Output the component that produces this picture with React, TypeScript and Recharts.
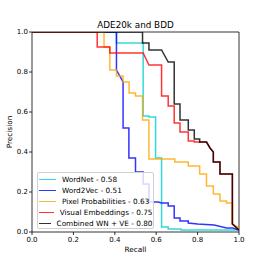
import React from "react";
import { LineChart, Line, XAxis, YAxis, ReferenceArea } from "recharts";

type Pt = { r: number; p: number };
const toPts = (a: number[][]): Pt[] => a.map(([r, p]) => ({ r, p }));

const ticks = [0, 0.2, 0.4, 0.6, 0.8, 1.0];

const wordNet = toPts([
  [0, 1], [0.408, 1], [0.408, 0.945], [0.537, 0.945], [0.537, 0.58],
  [0.565, 0.58], [0.565, 0.575], [0.597, 0.575], [0.597, 0.37],
  [0.626, 0.37], [0.626, 0.025], [0.658, 0.025], [0.658, 0.015],
  [0.72, 0.015], [0.72, 0.01], [1, 0.01],
]);

const word2Vec = toPts([
  [0, 1], [0.408, 1], [0.408, 0.81], [0.44, 0.75], [0.44, 0.52],
  [0.468, 0.52], [0.468, 0.37], [0.5, 0.37], [0.5, 0.3], [0.537, 0.3],
  [0.537, 0.24], [0.565, 0.24], [0.565, 0.15], [0.61, 0.15],
  [0.626, 0.145], [0.658, 0.145], [0.658, 0.13], [0.687, 0.13],
  [0.687, 0.07], [0.715, 0.07], [0.715, 0.055], [0.755, 0.055],
  [0.755, 0.045], [0.8, 0.04], [0.88, 0.035], [0.94, 0.02],
  [0.97, 0.02], [1, 0.01],
]);

const pixelProb = toPts([
  [0, 1], [0.348, 1], [0.348, 0.925], [0.376, 0.925], [0.376, 0.81],
  [0.408, 0.81], [0.408, 0.78], [0.44, 0.78], [0.44, 0.75], [0.469, 0.75],
  [0.469, 0.695], [0.5, 0.695], [0.5, 0.68], [0.534, 0.68], [0.534, 0.56],
  [0.565, 0.56], [0.565, 0.365], [0.69, 0.365], [0.69, 0.35],
  [0.755, 0.35], [0.755, 0.33], [0.81, 0.33], [0.81, 0.29], [0.843, 0.29],
  [0.843, 0.23], [0.876, 0.23], [0.876, 0.19], [0.908, 0.19],
  [0.908, 0.155], [0.94, 0.155], [0.94, 0.145], [0.968, 0.145],
  [0.968, 0.04], [1, 0.02],
]);

const visualEmb = toPts([
  [0, 1], [0.315, 1], [0.315, 0.925], [0.376, 0.925], [0.376, 0.895],
  [0.537, 0.895], [0.565, 0.835], [0.626, 0.835], [0.626, 0.68],
  [0.658, 0.68], [0.658, 0.63], [0.687, 0.63], [0.687, 0.545],
  [0.715, 0.545], [0.715, 0.5], [0.755, 0.5], [0.755, 0.455],
  [0.784, 0.455], [0.784, 0.45], [0.843, 0.45], [0.86, 0.42],
  [0.876, 0.4], [0.876, 0.35], [0.908, 0.35], [0.908, 0.29],
  [0.968, 0.29], [0.968, 0.04], [1, 0.01],
]);

const combined = toPts([
  [0, 1], [0.534, 1], [0.534, 0.945], [0.565, 0.945], [0.565, 0.91],
  [0.626, 0.91], [0.658, 0.85], [0.687, 0.85], [0.687, 0.64],
  [0.715, 0.64], [0.715, 0.56], [0.755, 0.56], [0.755, 0.51],
  [0.784, 0.51], [0.784, 0.465], [0.81, 0.465], [0.81, 0.45],
  [0.843, 0.45], [0.86, 0.42], [0.876, 0.4], [0.876, 0.35],
  [0.908, 0.35], [0.908, 0.29], [0.968, 0.29], [0.968, 0.04], [1, 0.01],
]);

const series = [
  { name: "WordNet - 0.58", color: "#00ced1", data: wordNet },
  { name: "Word2Vec - 0.51", color: "#0000ff", data: word2Vec },
  { name: "Pixel Probabilities - 0.63", color: "#ffa500", data: pixelProb },
  { name: "Visual Embeddings - 0.75", color: "#ff0000", data: visualEmb },
  { name: "Combined WN + VE - 0.80", color: "#000000", data: combined },
];

const font = "'DejaVu Sans', sans-serif";
const tickStyle = { fontSize: 7, fill: "#000", fontFamily: font };

export default function App() {
  return (
    <div
      style={{
        position: "absolute",
        left: 0,
        top: 0,
        width: 266,
        height: 266,
        background: "#fff",
        fontFamily: font,
      }}
    >
      <LineChart
        width={266}
        height={266}
        margin={{ top: 32, right: 27, left: 0, bottom: 14 }}
      >
        <XAxis
          dataKey="r"
          type="number"
          domain={[0, 1]}
          ticks={ticks}
          tickFormatter={(v: number) => v.toFixed(1)}
          axisLine={false}
          tickLine={{ stroke: "#000", strokeWidth: 0.8 }}
          tickSize={3}
          tickMargin={2}
          height={20}
          tick={tickStyle}
          allowDataOverflow
        />
        <YAxis
          dataKey="p"
          type="number"
          domain={[0, 1]}
          ticks={ticks}
          tickFormatter={(v: number) => v.toFixed(1)}
          axisLine={false}
          tickLine={{ stroke: "#000", strokeWidth: 0.8 }}
          tickSize={3}
          tickMargin={1}
          width={32}
          tick={tickStyle}
          allowDataOverflow
        />
        {series.map((s) => (
          <Line
            key={s.name}
            data={s.data}
            dataKey="p"
            type="linear"
            stroke={s.color}
            strokeOpacity={0.8}
            strokeWidth={1.5}
            dot={false}
            isAnimationActive={false}
          />
        ))}
        <ReferenceArea
          x1={0}
          x2={1}
          y1={0}
          y2={1}
          fill="none"
          stroke="#000"
          strokeWidth={0.8}
          ifOverflow="visible"
        />
      </LineChart>
      <div
        style={{
          position: "absolute",
          left: 0,
          width: 266,
          top: 19,
          textAlign: "center",
          fontSize: 8.8,
          lineHeight: "12px",
          paddingLeft: 5,
          boxSizing: "border-box",
        }}
      >
        ADE20k and BDD
      </div>
      <div
        style={{
          position: "absolute",
          left: 32,
          width: 207,
          top: 245,
          textAlign: "center",
          fontSize: 7.3,
          lineHeight: "10px",
        }}
      >
        Recall
      </div>
      <div
        style={{
          position: "absolute",
          left: 10,
          top: 132,
          fontSize: 7.3,
          lineHeight: "10px",
          transform: "translate(-50%, -50%) rotate(-90deg)",
          whiteSpace: "nowrap",
        }}
      >
        Precision
      </div>
      <div
        style={{
          position: "absolute",
          left: 36.5,
          top: 172,
          width: 117,
          height: 57,
          boxSizing: "border-box",
          border: "0.8px solid #d0d0d0",
          borderRadius: 2,
          background: "rgba(255,255,255,0.8)",
          paddingTop: 1,
        }}
      >
        {series.map((s) => (
          <div
            key={s.name}
            style={{
              display: "flex",
              alignItems: "center",
              height: 11,
              fontSize: 7.3,
              whiteSpace: "nowrap",
            }}
          >
            <div
              style={{
                marginLeft: 1.5,
                width: 17,
                height: 0,
                borderTop: `1.5px solid ${s.color}`,
                opacity: 0.8,
              }}
            />
            <span style={{ marginLeft: 6 }}>{s.name}</span>
          </div>
        ))}
      </div>
    </div>
  );
}
